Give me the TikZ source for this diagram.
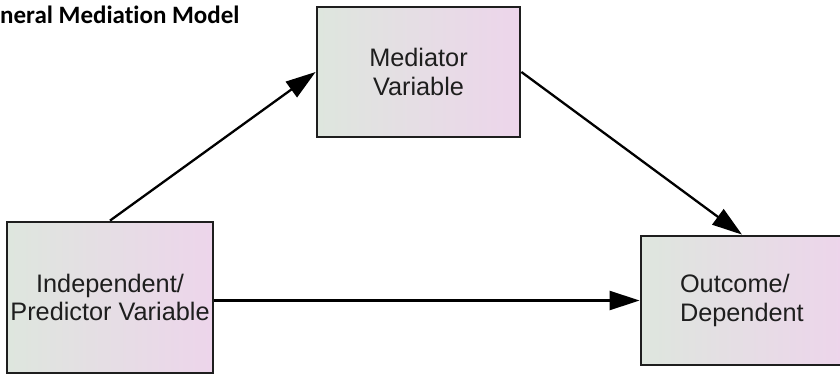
\documentclass[tikz,border=0pt]{standalone}
\usepackage{fontspec}
\setmainfont{Liberation Sans}
\newfontfamily\titlefont[Ligatures=NoCommon]{Carlito}
\usetikzlibrary{arrows.meta}
\definecolor{boxleft}{RGB}{222,230,222}
\definecolor{boxright}{RGB}{237,213,235}
\definecolor{inkc}{RGB}{30,30,30}
\tikzset{
  varbox/.style={draw=inkc, line width=2.8pt, left color=boxleft, right color=boxright,
    text=inkc, font=\fontsize{25.3}{28.5}\selectfont, inner sep=0pt},
  conn/.style={draw=black, line width=2.3pt, -{Triangle[length=30pt,width=19pt]}}
}
\begin{document}
\begin{tikzpicture}[x=1pt,y=-1pt]
\useasboundingbox (0,0) rectangle (840,375);
\node[anchor=base west, inner sep=0pt, font=\titlefont\bfseries\fontsize{25}{28}\selectfont, text=black] (title) at (0,23) {neral Mediation Model};
\node[varbox, minimum width=203pt, minimum height=130pt, align=center] (med) at (418.5,72) {Mediator\\Variable};
\node[varbox, minimum width=206pt, minimum height=151pt, align=center] (ind) at (110,297.5) {Independent/\\Predictor Variable};
\node[varbox, minimum width=202pt, minimum height=129pt, align=left, text width=124pt] (out) at (742,300.5) {Outcome/\\Dependent};
\draw[conn] (ind.north) -- (med.west);
\draw[conn] (med.east) -- (out.north);
\draw[conn] (ind.east |- out.west) -- (out.west);
\end{tikzpicture}
\end{document}
